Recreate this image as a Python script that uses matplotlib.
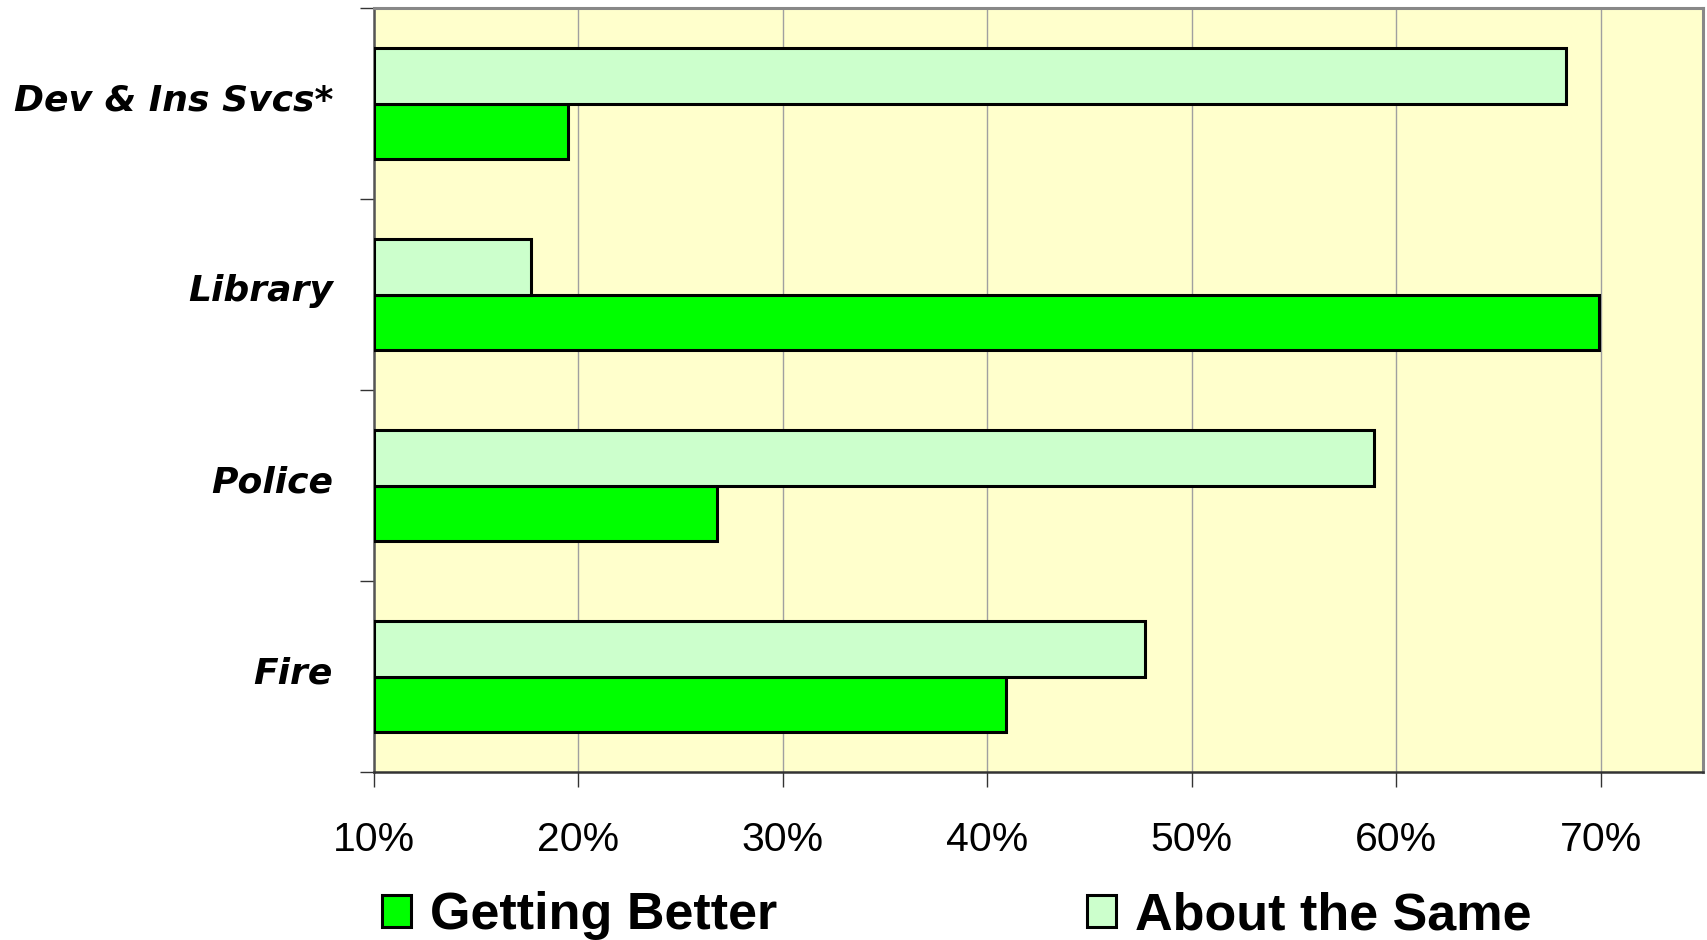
import matplotlib
matplotlib.use("Agg")
import matplotlib.pyplot as plt
import matplotlib.patches as mpatches
import numpy as np

plt.rcParams["font.family"] = ["Liberation Sans", "DejaVu Sans"]

# Survey shares (%) per department, top to bottom
categories = ["Dev & Ins Svcs*", "Library", "Police", "Fire"]
getting_better = [19.5, 69.9, 26.8, 40.9]
about_same = [68.3, 17.7, 58.9, 47.7]
series_names = ["Getting Better", "About the Same"]
colors = ["#00FF00", "#CCFFCC"]

x_min, x_max = 10, 75
x_ticks = [10, 20, 30, 40, 50, 60, 70]

fig = plt.figure(figsize=(17.07, 9.40), dpi=100)
ax = fig.add_axes([374 / 1707, 1 - 772 / 940, (1703 - 374) / 1707, (772 - 8) / 940])
ax.set_facecolor("#FFFFCC")

n = len(categories)
y = np.arange(n)[::-1].astype(float)  # first category at top
h = 0.288

ax.barh(y - h / 2, np.array(getting_better) - x_min, left=x_min, height=h,
        color=colors[0], edgecolor="black", linewidth=2.2, zorder=3)
ax.barh(y + h / 2, np.array(about_same) - x_min, left=x_min, height=h,
        color=colors[1], edgecolor="black", linewidth=2.2, zorder=3)

ax.set_xlim(x_min, x_max)
ax.set_ylim(-0.5, n - 0.5)

ax.set_xticks(x_ticks)
ax.set_xticklabels([f"{t}%" for t in x_ticks], fontsize=29.5)
ax.xaxis.grid(True, color="#A0A0A0", linewidth=1.0, zorder=0)
ax.set_axisbelow(True)

# category boundaries carry the y ticks, labels sit on band centres
ax.set_yticks(np.arange(-0.5, n, 1.0))
ax.set_yticklabels([])
ax.set_yticks(y + 0.035, minor=True)
ax.set_yticklabels(categories, minor=True, fontsize=26, fontweight="bold",
                   fontstyle="italic", family="DejaVu Sans")
ax.tick_params(axis="y", which="minor", length=0, pad=29.5)
ax.tick_params(axis="y", which="major", direction="out", length=10,
               width=1.0, color="#333333")
ax.tick_params(axis="x", direction="out", length=11, width=1.0,
               color="#333333", pad=24)

for side in ["top", "right"]:
    ax.spines[side].set_color("#888888")
    ax.spines[side].set_linewidth(2.2)
ax.spines["left"].set_color("#555555")
ax.spines["left"].set_linewidth(1.8)
ax.spines["bottom"].set_color("#333333")
ax.spines["bottom"].set_linewidth(1.8)

handles = [mpatches.Patch(facecolor=c, edgecolor="black", linewidth=2.2)
           for c in colors]
fig.legend(handles, series_names, loc="center left",
           bbox_to_anchor=(382 / 1707, 1 - 916 / 940), ncol=2, frameon=False,
           prop={"size": 37.5, "weight": "bold"}, handlelength=0.55,
           handleheight=0.58, handletextpad=0.37, columnspacing=5.95,
           borderpad=0, borderaxespad=0)

fig.savefig("out.png", dpi=100, facecolor="white")
